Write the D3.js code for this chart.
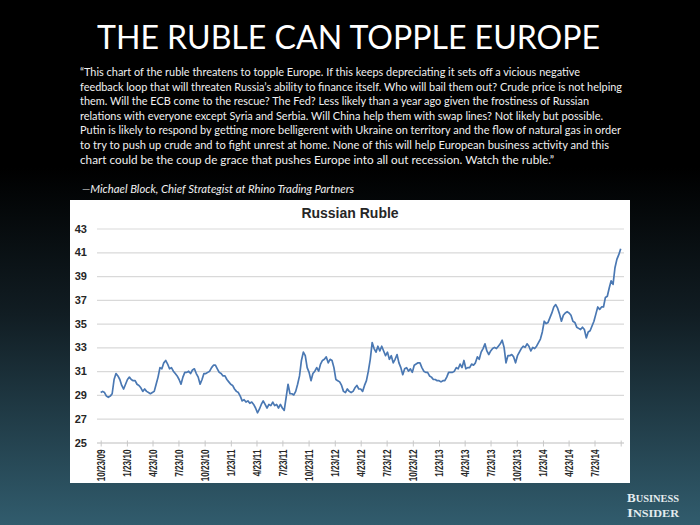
<!DOCTYPE html>
<html><head><meta charset="utf-8">
<script src="https://cdn.jsdelivr.net/npm/d3@7"></script>
<style>html,body{margin:0;padding:0;background:#000;} svg{display:block}</style>
</head><body>
<svg id="c" width="700" height="525"></svg>
<script>
// ---------------- data ----------------
const titleText = "THE RUBLE CAN TOPPLE EUROPE";
const quoteLines = [
  "\u201CThis chart of the ruble threatens to topple Europe. If this keeps depreciating it sets off a vicious negative",
  "feedback loop that will threaten Russia\u2019s ability to finance itself. Who will bail them out? Crude price is not helping",
  "them. Will the ECB come to the rescue? The Fed? Less likely than a year ago given the frostiness of Russian",
  "relations with everyone except Syria and Serbia. Will China help them with swap lines? Not likely but possible.",
  "Putin is likely to respond by getting more belligerent with Ukraine on territory and the flow of natural gas in order",
  "to try to push up crude and to fight unrest at home. None of this will help European business activity and this",
  "chart could be the coup de grace that pushes Europe into all out recession. Watch the ruble.\u201D"
];
const authorText = "\u2014Michael Block, Chief  Strategist at Rhino Trading Partners";
const chartTitle = "Russian Ruble";
const yTicks = [25, 27, 29, 31, 33, 35, 37, 39, 41, 43];
const xTickDates = ["2009-10-23","2010-01-23","2010-04-23","2010-07-23","2010-10-23","2011-01-23","2011-04-23",
  "2011-07-23","2011-10-23","2012-01-23","2012-04-23","2012-07-23","2012-10-23","2013-01-23","2013-04-23",
  "2013-07-23","2013-10-23","2014-01-23","2014-04-23","2014-07-23","2014-10-23"];
const xTickLabels = ["10/23/09","1/23/10","4/23/10","7/23/10","10/23/10","1/23/11","4/23/11","7/23/11",
  "10/23/11","1/23/12","4/23/12","7/23/12","10/23/12","1/23/13","4/23/13","7/23/13","10/23/13",
  "1/23/14","4/23/14","7/23/14",""];
const seriesStart = "2009-10-23";
const seriesEnd = "2014-10-23";
const rates = [
  29.2, 29.3, 29.2, 28.9, 28.8, 28.9, 29.1, 30.3, 30.8, 30.6,
  30.3, 29.8, 29.5, 29.9, 30.3, 30.5, 30.3, 30.2, 30.2, 29.9,
  29.8, 29.6, 29.3, 29.5, 29.3, 29.2, 29.1, 29.2, 29.3, 29.9,
  30.5, 31.3, 31.2, 31.7, 31.9, 31.6, 31.2, 31.3, 31.0, 30.8,
  30.6, 30.3, 29.9, 30.5, 30.9, 30.9, 31.0, 30.8, 31.1, 31.2,
  30.8, 30.5, 29.9, 30.3, 30.8, 30.8, 30.9, 31.0, 31.3, 31.5,
  31.5, 31.2, 30.9, 30.8, 30.6, 30.6, 30.3, 30.1, 29.9, 29.8,
  29.5, 29.3, 29.2, 28.9, 28.5, 28.6, 28.4, 28.5, 28.3, 28.4,
  28.2, 27.9, 27.5, 27.8, 28.2, 28.5, 28.2, 27.9, 28.2, 28.1,
  28.4, 28.1, 28.2, 27.9, 28.2, 27.9, 27.7, 28.8, 29.9, 29.1,
  29.1, 29.0, 29.3, 29.9, 30.6, 31.9, 32.6, 32.3, 31.3, 30.9,
  30.2, 30.8, 31.0, 31.3, 31.0, 31.6, 31.9, 32.0, 32.2, 31.7,
  32.0, 31.9, 31.3, 30.3, 30.2, 30.1, 29.8, 29.3, 29.2, 29.5,
  29.3, 29.2, 29.3, 29.6, 29.8, 29.5, 29.5, 29.3, 29.8, 30.2,
  31.0, 32.0, 33.4, 32.9, 32.6, 33.1, 32.7, 33.1, 32.7, 32.3,
  32.6, 32.0, 32.3, 31.7, 32.0, 32.4, 31.7, 31.3, 30.7, 31.2,
  31.3, 31.0, 31.2, 30.9, 31.5, 31.6, 31.7, 31.7, 31.3, 31.0,
  30.9, 30.9, 30.6, 30.5, 30.3, 30.3, 30.2, 30.2, 30.1, 30.2,
  30.2, 30.5, 30.9, 30.9, 30.9, 31.0, 31.3, 31.2, 31.6, 31.3,
  31.9, 31.2, 31.3, 31.3, 31.6, 31.5, 31.7, 32.2, 32.0, 32.6,
  32.9, 33.3, 32.7, 32.4, 32.7, 32.9, 33.0, 32.9, 33.1, 33.3,
  33.6, 33.0, 31.7, 32.3, 32.3, 32.4, 32.2, 31.7, 32.3, 32.6,
  32.9, 33.1, 33.0, 33.3, 33.1, 32.7, 33.0, 32.9, 33.1, 33.4,
  33.7, 34.3, 35.2, 35.0, 35.1, 35.5, 35.9, 36.4, 36.6, 36.3,
  35.8, 35.2, 35.7, 35.9, 36.0, 35.9, 35.7, 35.2, 35.1, 34.7,
  34.6, 34.5, 34.7, 34.5, 33.8, 34.3, 34.4, 34.8, 35.2, 35.8,
  36.4, 36.2, 36.4, 36.4, 37.2, 37.3, 38.0, 38.6, 38.3, 39.7,
  40.4, 40.8, 41.3
];

// ---------------- layout ----------------
const W = 700, H = 525;
const panel = {x: 70, y: 200, w: 560, h: 283};
const plot = {left: 100.7, right: 620.7, top: 228.5, bottom: 442.5, gridLeft: 97, gridRight: 624};
const quoteWidths = [500, 542, 509, 523, 541, 529, 474];
const labelSqueeze = 0.78;

const svg = d3.select("#c");
const defs = svg.append("defs");
const grad = defs.append("linearGradient").attr("id", "bg").attr("x1", 0).attr("y1", 0).attr("x2", 0).attr("y2", 1);
grad.append("stop").attr("offset", "0").attr("stop-color", "#000000");
grad.append("stop").attr("offset", "0.32").attr("stop-color", "#000000");
grad.append("stop").attr("offset", "0.6").attr("stop-color", "#111d23");
grad.append("stop").attr("offset", "1").attr("stop-color", "#315c6d");
svg.append("rect").attr("width", W).attr("height", H).attr("fill", "url(#bg)");

// Title
svg.append("text").attr("x", 97).attr("y", 49)
  .attr("font-family", "Lato, 'Open Sans', sans-serif").attr("font-size", 33)
  .attr("fill", "#ffffff").attr("textLength", 503).attr("lengthAdjust", "spacingAndGlyphs")
  .text(titleText);

// Quote
const q = svg.append("g").attr("font-family", "Lato, 'Open Sans', sans-serif").attr("font-size", 11.5).attr("fill", "#f0f0f0");
quoteLines.forEach((l, i) => {
  q.append("text").attr("x", 80).attr("y", 76 + i * 14.6)
    .attr("textLength", quoteWidths[i]).attr("lengthAdjust", "spacingAndGlyphs").text(l);
});
svg.append("text").attr("x", 82).attr("y", 193)
  .attr("font-family", "Lato, 'Open Sans', sans-serif").attr("font-size", 11.5).attr("font-style", "italic")
  .attr("fill", "#f0f0f0").attr("textLength", 272).attr("lengthAdjust", "spacingAndGlyphs").text(authorText);

// Panel
svg.append("rect").attr("x", panel.x).attr("y", panel.y).attr("width", panel.w).attr("height", panel.h).attr("fill", "#ffffff");

svg.append("text").attr("x", 350).attr("y", 218).attr("text-anchor", "middle")
  .attr("font-family", "'Liberation Sans', Arial, sans-serif").attr("font-weight", "bold").attr("font-size", 14)
  .attr("fill", "#262626").text(chartTitle);

// Scales
const parse = d3.timeParse("%Y-%m-%d");
const t0 = parse(seriesStart), t1 = parse(seriesEnd);
const x = d3.scaleTime().domain([t0, t1]).range([plot.left, plot.right]);
const y = d3.scaleLinear().domain([25, 43]).range([plot.bottom, plot.top]);
const n = rates.length;
const series = rates.map((v, i) => ({date: new Date(+t0 + (t1 - t0) * i / (n - 1)), v}));

// Grid + y axis
const yAxis = d3.axisLeft(y).tickValues(yTicks).tickSize(-(plot.gridRight - plot.gridLeft)).tickPadding(10).tickFormat(d3.format("d"));
const gy = svg.append("g").attr("transform", `translate(${plot.gridLeft},0)`).call(yAxis);
gy.select(".domain").remove();
gy.selectAll(".tick line").attr("stroke", "#d9d9d9").attr("stroke-width", 1.2);
gy.selectAll(".tick text").attr("font-family", "'Liberation Sans', Arial, sans-serif").attr("font-weight", "bold")
  .attr("font-size", 11).attr("fill", "#262626");

// x axis
const tickDates = xTickDates.map(parse);
const xAxis = d3.axisBottom(x).tickValues(tickDates).tickSize(4).tickFormat((d, i) => xTickLabels[i]);
const gx = svg.append("g").attr("transform", `translate(0,${plot.bottom})`).call(xAxis);
gx.select(".domain").attr("d", `M${plot.gridLeft},0.5H${plot.gridRight}`).attr("stroke", "#d0d0d0");
gx.selectAll(".tick line").attr("stroke", "#c8c8c8").attr("y1", -2);
gx.selectAll(".tick text")
  .attr("font-family", "'Liberation Sans', Arial, sans-serif")
  .attr("font-weight", "bold").attr("font-size", 10.5).attr("fill", "#262626")
  .attr("text-anchor", "end").attr("transform", `rotate(-90) scale(${labelSqueeze},1)`)
  .attr("x", -7 / labelSqueeze).attr("y", 0).attr("dy", "0.35em");

// Line
const line = d3.line().x(d => x(d.date)).y(d => y(d.v));
svg.append("path").datum(series).attr("d", line).attr("fill", "none")
  .attr("stroke", "#4a78b3").attr("stroke-width", 1.7).attr("stroke-linejoin", "round");

// Logo
const logo = svg.append("g").attr("font-family", "'Liberation Serif', 'DejaVu Serif', serif").attr("fill", "#e4ecef").attr("font-weight", "bold");
const l1 = logo.append("text").attr("x", 627).attr("y", 502).attr("textLength", 52).attr("lengthAdjust", "spacingAndGlyphs");
l1.append("tspan").attr("font-size", 12.5).text("B");
l1.append("tspan").attr("font-size", 10).text("USINESS");
const l2 = logo.append("text").attr("x", 627).attr("y", 517).attr("textLength", 52).attr("lengthAdjust", "spacingAndGlyphs");
l2.append("tspan").attr("font-size", 12.5).text("I");
l2.append("tspan").attr("font-size", 10).text("NSIDER");
</script>
</body></html>
